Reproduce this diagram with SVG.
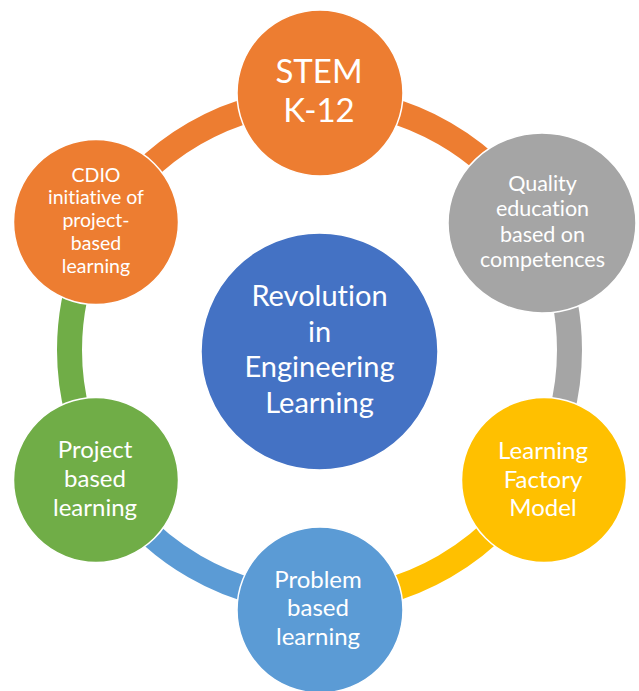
<svg xmlns="http://www.w3.org/2000/svg" width="639" height="691" viewBox="0 0 639 691">
  <style>
    .arc { fill: none; stroke-width: 25; stroke-linecap: butt; }
    .node { stroke: #FFFFFF; stroke-width: 1.5; }
    .lbl { font-family: Lato, "Open Sans", "Liberation Sans", sans-serif; fill: #FFFFFF; text-anchor: middle; font-variant-ligatures: none; }
  </style>
  <rect x="0" y="0" width="639" height="691" fill="#FFFFFF"/>
  <g id="connectors">
    <path class="arc" stroke="#ED7D31" d="M 319.5 100 A 250 250 0 0 1 536 225"/>
    <path class="arc" stroke="#A5A5A5" d="M 536 225 A 250 250 0 0 1 536 475"/>
    <path class="arc" stroke="#FFC000" d="M 536 475 A 250 250 0 0 1 319.5 600"/>
    <path class="arc" stroke="#5B9BD5" d="M 319.5 600 A 250 250 0 0 1 103 475"/>
    <path class="arc" stroke="#70AD47" d="M 103 475 A 250 250 0 0 1 103 225"/>
    <path class="arc" stroke="#ED7D31" d="M 103 225 A 250 250 0 0 1 319.5 100"/>
  </g>
  <g id="center">
    <circle class="node" cx="319.5" cy="351.5" r="118.5" fill="#4472C4"/>
    <text class="lbl" font-size="29"><tspan x="319.5" y="306">Revolution</tspan><tspan x="319.5" y="341.5">in</tspan><tspan x="319.5" y="377">Engineering</tspan><tspan x="319.5" y="412.5">Learning</tspan></text>
  </g>
  <g id="stem">
    <circle class="node" cx="320" cy="93" r="83" fill="#ED7D31"/>
    <text class="lbl" font-size="33"><tspan x="319" y="83">STEM</tspan><tspan x="319" y="122">K-12</tspan></text>
  </g>
  <g id="quality">
    <ellipse class="node" cx="542" cy="223" rx="94" ry="90" fill="#A5A5A5"/>
    <text class="lbl" font-size="21.5"><tspan x="542.5" y="191">Quality</tspan><tspan x="542.5" y="216">education</tspan><tspan x="542.5" y="241.5">based on</tspan><tspan x="542.5" y="266.5">competences</tspan></text>
  </g>
  <g id="learning-factory">
    <circle class="node" cx="544" cy="480" r="82.5" fill="#FFC000"/>
    <text class="lbl" font-size="24"><tspan x="543" y="459">Learning</tspan><tspan x="543" y="487.5">Factory</tspan><tspan x="543" y="515.5">Model</tspan></text>
  </g>
  <g id="problem">
    <circle class="node" cx="320" cy="610" r="83" fill="#5B9BD5"/>
    <text class="lbl" font-size="24"><tspan x="318" y="587.5">Problem</tspan><tspan x="318" y="616">based</tspan><tspan x="318" y="644.5">learning</tspan></text>
  </g>
  <g id="project">
    <circle class="node" cx="96" cy="480" r="82.5" fill="#70AD47"/>
    <text class="lbl" font-size="24"><tspan x="95" y="458">Project</tspan><tspan x="95" y="486.5">based</tspan><tspan x="95" y="515.5">learning</tspan></text>
  </g>
  <g id="cdio">
    <circle class="node" cx="96" cy="222" r="82.5" fill="#ED7D31"/>
    <text class="lbl" font-size="19.5"><tspan x="96" y="181.5">CDIO</tspan><tspan x="96" y="204">initiative of</tspan><tspan x="96" y="226.5">project-</tspan><tspan x="96" y="249.5">based</tspan><tspan x="96" y="272.5">learning</tspan></text>
  </g>
</svg>
